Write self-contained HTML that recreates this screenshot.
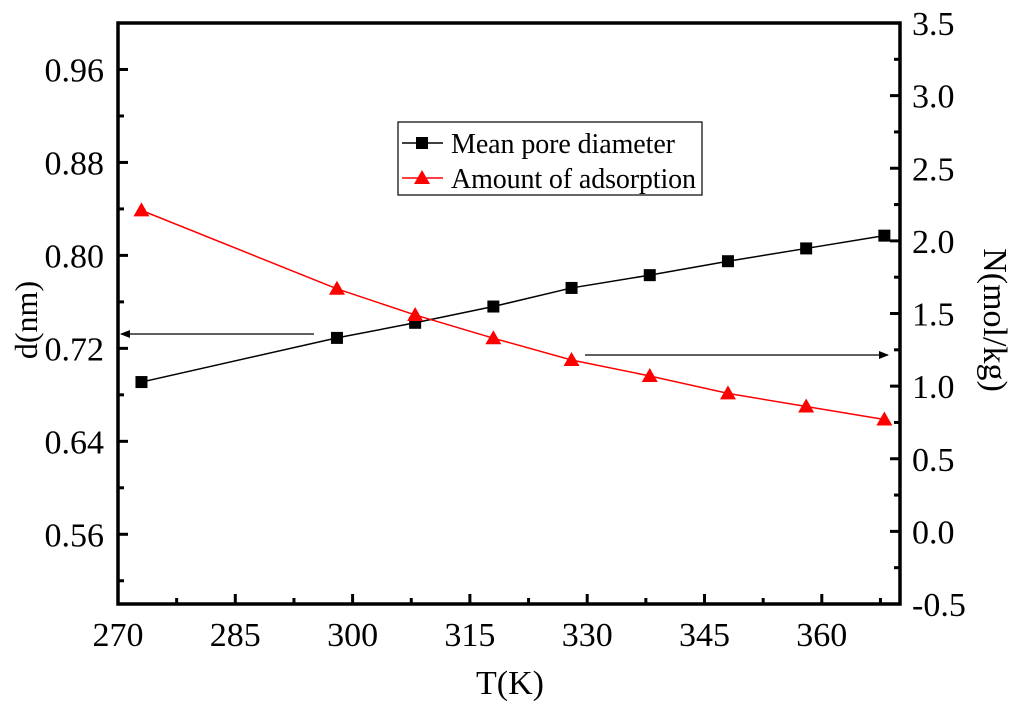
<!DOCTYPE html>
<html><head><meta charset="utf-8"><style>
html,body{margin:0;padding:0;background:#fff}
svg{display:block;font-family:"Liberation Serif",serif}
</style></head><body>
<svg id="chart" width="1024" height="705" viewBox="0 0 1024 705">
<defs>
<marker id="ah" markerWidth="10" markerHeight="8" refX="9" refY="4" orient="auto" markerUnits="userSpaceOnUse"><path d="M0,0 L10,4 L0,8 Z" fill="#000"/></marker>
</defs>
<g id="axes"></g>
<g id="series"></g>
<g>
<rect x="398" y="122" width="304" height="73" fill="#fff" stroke="#000" stroke-width="1.2"/>
<line x1="402" y1="143" x2="443" y2="143" stroke="#000" stroke-width="1.5"/>
<rect x="416" y="137" width="12" height="12" fill="#000"/>
<text x="451" y="153" font-size="28" textLength="224">Mean pore diameter</text>
<line x1="402" y1="178" x2="443" y2="178" stroke="#f00" stroke-width="1.5"/>
<path d="M422,170 L430,184 L414,184 Z" fill="#f00"/>
<text x="451" y="188" font-size="28" textLength="245">Amount of adsorption</text>
</g>
<line x1="314" y1="334" x2="121" y2="334" stroke="#000" stroke-width="1.3" marker-end="url(#ah)"/>
<line x1="585" y1="355" x2="888" y2="355" stroke="#000" stroke-width="1.3" marker-end="url(#ah)"/>
<text x="510" y="694" font-size="34" text-anchor="middle">T(K)</text>
<text transform="translate(37,320) rotate(-90)" font-size="32" text-anchor="middle">d(nm)</text>
<text transform="translate(984,320) rotate(90)" font-size="34" text-anchor="middle">N(mol/kg)</text>
</svg>
<script>
const temps=[273,298,308,318,328,338,348,358,368];
const diameter=[0.691,0.729,0.742,0.756,0.772,0.783,0.795,0.806,0.817];
const adsorption=[2.21,1.67,1.49,1.33,1.18,1.07,0.95,0.86,0.77];
const xTicks=[270,285,300,315,330,345,360];
const leftTicks=[0.56,0.64,0.72,0.80,0.88,0.96];
const rightTicks=[-0.5,0.0,0.5,1.0,1.5,2.0,2.5,3.0,3.5];
const L=118,R=900,T=23,B=604;
const xs=v=>L+(v-270)/100*(R-L);
const yl=v=>B-(v-0.5)/0.5*(B-T);
const yr=v=>B-(v+0.5)/4*(B-T);
const NS="http://www.w3.org/2000/svg";
const ax=document.getElementById('axes'),se=document.getElementById('series');
function mk(tag,at,parent){const e=document.createElementNS(NS,tag);for(const k in at)e.setAttribute(k,at[k]);parent.appendChild(e);return e;}
const fr=mk('rect',{x:L,y:T,width:R-L,height:B-T,fill:'none',stroke:'#000','stroke-width':3.5},ax);


for(let v=270;v<=370;v+=7.5){const x=xs(v);const major=xTicks.includes(v);
 const t=mk('line',{x1:x,y1:B,x2:x,y2:B-(major?10:6),stroke:'#000','stroke-width':3},ax);
 
 }
xTicks.forEach(v=>{const t=mk('text',{x:xs(v),y:B+42,'font-size':34,'text-anchor':'middle'},ax);t.textContent=v;
 
 });
for(let i=0;i<=12;i++){const v=0.48+i*0.04;if(v<=0.5||v>=1)continue;const y=yl(v);const major=i%2==0;
 const t=mk('line',{x1:L,y1:y,x2:L+(major?10:6),y2:y,stroke:'#000','stroke-width':3},ax);
 
 }
leftTicks.forEach(v=>{const t=mk('text',{x:L-14,y:yl(v)+12,'font-size':34,'text-anchor':'end'},ax);t.textContent=v.toFixed(2);
 
 });
for(let i=1;i<16;i++){const v=-0.5+i*0.25;const y=yr(v);const major=i%2==0;
 const t=mk('line',{x1:R,y1:y,x2:R-(major?10:6),y2:y,stroke:'#000','stroke-width':3},ax);
 
 }
rightTicks.forEach(v=>{const t=mk('text',{x:R+12,y:yr(v)+12,'font-size':34},ax);t.textContent=v.toFixed(1);
 
 });
const dl=mk('polyline',{points:temps.map((t,i)=>xs(t)+','+yl(diameter[i])).join(' '),fill:'none',stroke:'#000','stroke-width':1.5},se);


const al=mk('polyline',{points:temps.map((t,i)=>xs(t)+','+yr(adsorption[i])).join(' '),fill:'none',stroke:'#f00','stroke-width':1.5},se);


temps.forEach((t,i)=>{const x=xs(t),y=yl(diameter[i]);
 const r=mk('rect',{x:x-6,y:y-6,width:12,height:12,fill:'#000'},se);
 
 
 const y2=yr(adsorption[i]);
 const p=mk('path',{d:`M${x},${y2-8} L${x+8},${y2+6} L${x-8},${y2+6} Z`,fill:'#f00'},se);
 
 });
</script>
</body></html>
